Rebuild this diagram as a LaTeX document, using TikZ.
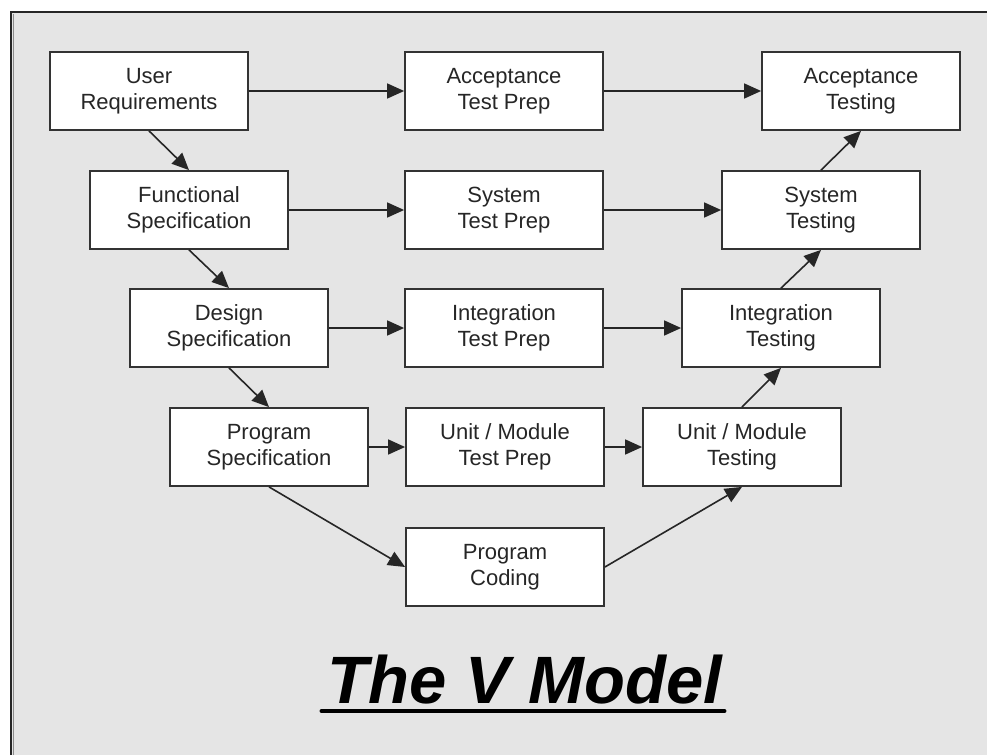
\documentclass[tikz,border=0pt]{standalone}
\usepackage{fontspec}
\setmainfont{Liberation Sans}
\usetikzlibrary{arrows.meta}
\begin{document}
\begin{tikzpicture}[x=1pt,y=-1pt,
  stage/.style={draw=black!80, line width=1.8pt, fill=white, minimum width=198pt,
    minimum height=78pt, inner sep=0pt, align=center, text=black!85,
    font=\fontsize{22}{26}\selectfont},
  flow/.style={draw=black!85, line width=1.6pt, -{Triangle[length=17pt,width=15pt]}}]
  % page and panel
  \useasboundingbox (0,0) rectangle (987,755);
  \fill[white] (0,0) rectangle (987,755);
  \fill[black!10] (11,12) rectangle (987,755);
  \draw[black!85, line width=2pt] (11,755) -- (11,12) -- (987,12);
  \draw[black!45, line width=1.5pt] (13.5,755) -- (13.5,14);

  % left arm: specifications
  \node[stage] (ur) at (149,91)  {User\\Requirements};
  \node[stage] (fs) at (189,210) {Functional\\Specification};
  \node[stage] (ds) at (229,328) {Design\\Specification};
  \node[stage] (ps) at (269,447) {Program\\Specification};

  % middle column: test preparation
  \node[stage] (atp) at (504,91)  {Acceptance\\Test Prep};
  \node[stage] (stp) at (504,210) {System\\Test Prep};
  \node[stage] (itp) at (504,328) {Integration\\Test Prep};
  \node[stage] (utp) at (505,447) {Unit / Module\\Test Prep};
  \node[stage] (pc)  at (505,567) {Program\\Coding};

  % right arm: testing
  \node[stage] (at) at (861,91)  {Acceptance\\Testing};
  \node[stage] (st) at (821,210) {System\\Testing};
  \node[stage] (it) at (781,328) {Integration\\Testing};
  \node[stage] (ut) at (742,447) {Unit / Module\\Testing};

  % horizontal links
  \draw[flow] (ur) -- (atp);
  \draw[flow] (atp) -- (at);
  \draw[flow] (fs) -- (stp);
  \draw[flow] (stp) -- (st);
  \draw[flow] (ds) -- (itp);
  \draw[flow] (itp) -- (it);
  \draw[flow] (ps) -- (utp);
  \draw[flow] (utp) -- (ut);

  % down the left arm
  \draw[flow] (ur.south) -- (fs.north);
  \draw[flow] (fs.south) -- (ds.north);
  \draw[flow] (ds.south) -- (ps.north);
  \draw[flow] (ps.south) -- (pc.west);

  % up the right arm
  \draw[flow] (pc.east) -- (ut.south);
  \draw[flow] (ut.north) -- (it.south);
  \draw[flow] (it.north) -- (st.south);
  \draw[flow] (st.north) -- (at.south);

  % title
  \node[inner sep=0pt, anchor=base] (title) at (525,703)
    {\fontsize{67}{70}\selectfont\bfseries\itshape The V Model};
  \draw[line width=4pt, line cap=round] (title.base west) ++(-6,8) coordinate (ul)
    (ul) -- ([xshift=2pt,yshift=-8pt]title.base east);
\end{tikzpicture}
\end{document}
